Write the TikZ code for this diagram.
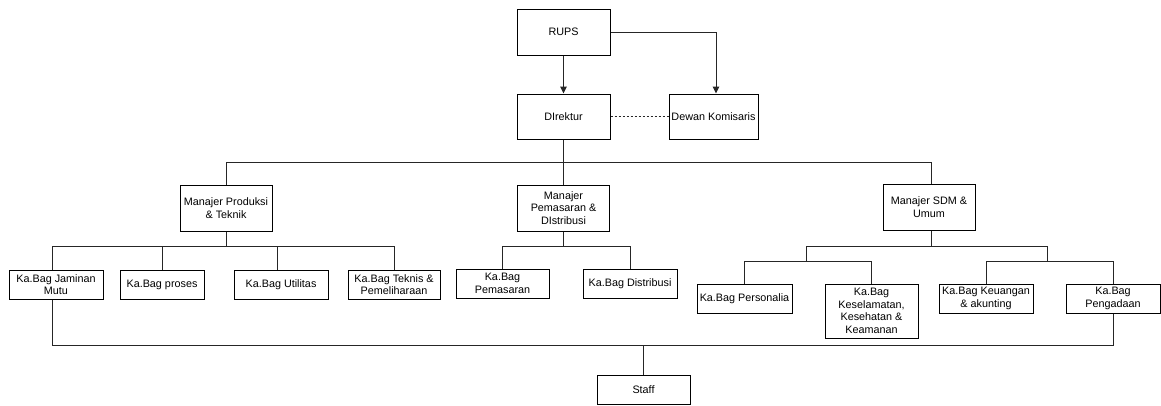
\documentclass[tikz,border=0pt]{standalone}
\usepackage{fontspec}
\setmainfont{Liberation Sans}
\usetikzlibrary{arrows.meta}
\begin{document}
\begin{tikzpicture}[x=1pt,y=-1pt,
  box/.style={draw=black,line width=1pt,fill=white,align=center,inner sep=1pt,
    font=\fontsize{10.8}{12.5}\selectfont},
  conn/.style={draw=black!85,line width=1pt},
  arr/.style={conn,-{Triangle[length=7pt,width=6.5pt]}}]
\useasboundingbox (0,0) rectangle (1161,405);
% top
\node[box,minimum width=93pt,minimum height=46pt] (rups) at (563.5,32) {RUPS};
\node[box,minimum width=93pt,minimum height=45pt] (dir) at (563.5,116.5) {DIrektur};
\node[box,minimum width=89pt,minimum height=45pt] (dk) at (713.5,116.5) {Dewan Komisaris};
% managers
\node[box,minimum width=92pt,minimum height=46pt] (mp) at (226,208) {Manajer Produksi\\\& Teknik};
\node[box,minimum width=92pt,minimum height=46pt] (mpd) at (563.5,208) {Manajer\\Pemasaran \&\\DIstribusi};
\node[box,minimum width=92pt,minimum height=46pt] (msdm) at (929,207) {Manajer SDM \&\\Umum};
% kabag production
\node[box,minimum width=94pt,minimum height=29pt] (jm) at (56,284.5) {Ka.Bag Jaminan\\Mutu};
\node[box,minimum width=84pt,minimum height=29pt] (pro) at (162,284.5) {Ka.Bag proses};
\node[box,minimum width=94pt,minimum height=29pt] (uti) at (281,284.5) {Ka.Bag Utilitas};
\node[box,minimum width=92pt,minimum height=29pt] (tek) at (394,284.5) {Ka.Bag Teknis \&\\Pemeliharaan};
% kabag marketing
\node[box,minimum width=93pt,minimum height=29pt] (pem) at (502.5,283.5) {Ka.Bag\\Pemasaran};
\node[box,minimum width=94pt,minimum height=29pt] (dis) at (630,283.5) {Ka.Bag Distribusi};
% kabag sdm
\node[box,minimum width=95pt,minimum height=29pt] (per) at (744.5,298.5) {Ka.Bag Personalia};
\node[box,minimum width=93pt,minimum height=54pt] (kes) at (871.5,311) {Ka.Bag\\Keselamatan,\\Kesehatan \&\\Keamanan};
\node[box,minimum width=94pt,minimum height=29pt] (keu) at (986,298.5) {Ka.Bag Keuangan\\\& akunting};
\node[box,minimum width=94pt,minimum height=29pt] (pen) at (1113,298.5) {Ka.Bag\\Pengadaan};
% staff
\node[box,minimum width=93pt,minimum height=29pt] (staff) at (643.5,389.5) {Staff};
% bus coordinates
\coordinate (b1) at (0,162);
\coordinate (b2) at (0,246);
\coordinate (b3) at (0,261);
\coordinate (b4) at (0,345);
\coordinate (sl) at (806,0);
\coordinate (sr) at (1047,0);
% top connectors
\draw[arr] (rups) -- (dir);
\draw[arr] (rups.east) -| ([xshift=2.5pt]dk.north);
\draw[conn,dashed,dash pattern=on 2pt off 2pt,line width=0.7pt] (dir) -- (dk);
% director to managers
\draw[conn] (dir.south) -- (mpd.north);
\draw[conn] (mp.north) -- (mp.north |- b1) -- ([xshift=2pt]msdm.north |- b1) -- ([xshift=2pt]msdm.north);
% production
\draw[conn] (mp.south) -- (mp.south |- b2);
\draw[conn] ([xshift=-4pt]jm.north) -- ([xshift=-4pt]jm.north |- b2) -- (tek.north |- b2) -- (tek.north);
\draw[conn] (pro.north) -- (pro.north |- b2);
\draw[conn] ([xshift=-4pt]uti.north) -- ([xshift=-4pt]uti.north |- b2);
% marketing
\draw[conn] (mpd.south) -- (mpd.south |- b2);
\draw[conn] (pem.north) -- (pem.north |- b2) -- (dis.north |- b2) -- (dis.north);
% sdm
\draw[conn] ([xshift=2pt]msdm.south) -- ([xshift=2pt]msdm.south |- b2);
\draw[conn] (sl |- b3) -- (sl |- b2) -- (sr |- b2) -- (sr |- b3);
\draw[conn] (per.north) -- (per.north |- b3) -- (kes.north |- b3) -- (kes.north);
\draw[conn] (keu.north) -- (keu.north |- b3) -- (pen.north |- b3) -- (pen.north);
% staff
\draw[conn] ([xshift=-4pt]jm.south) -- ([xshift=-4pt]jm.south |- b4) -- (pen.south |- b4) -- (pen.south);
\draw[conn] (staff.north) -- (staff.north |- b4);
\end{tikzpicture}
\end{document}
